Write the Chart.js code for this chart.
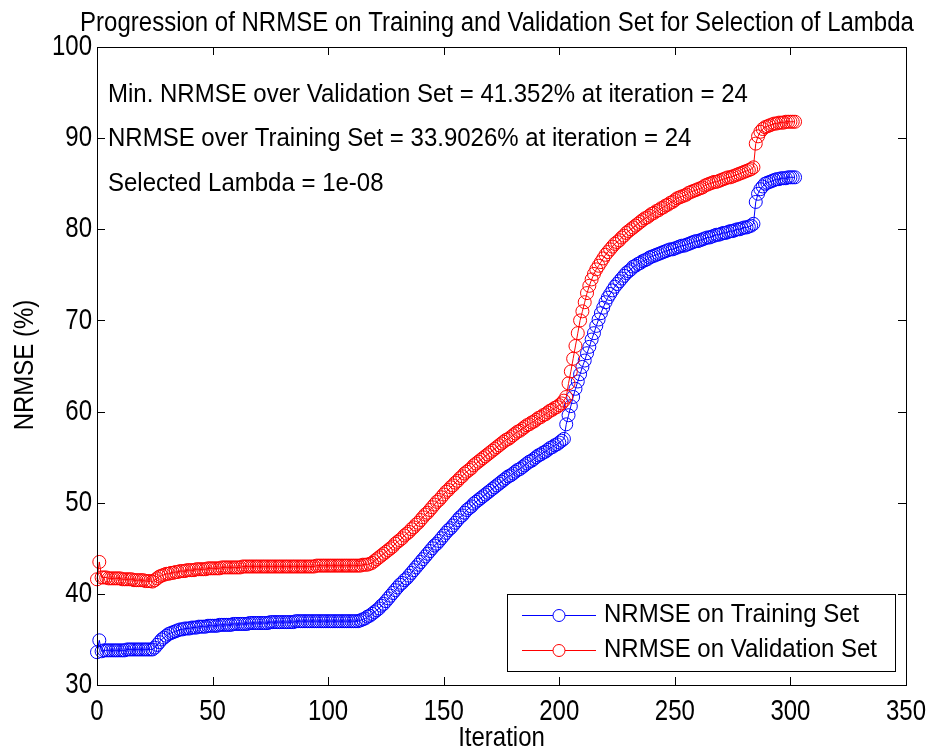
<!DOCTYPE html>
<html>
<head>
<meta charset="utf-8">
<script src="https://cdn.jsdelivr.net/npm/chart.js@4.4.0/dist/chart.umd.min.js"></script>
<style>
  html, body { margin: 0; padding: 0; background: #fff; }
</style>
</head>
<body>
<canvas id="myChart" width="928" height="749"></canvas>
<script>
// NRMSE (%) per iteration
const trainNrmse = [
  33.6, 34.9, 33.7, 33.8, 33.8, 33.8, 33.8, 33.8, 33.8, 33.8,
  33.8, 33.8, 33.8, 33.9, 33.9, 33.9, 33.9, 33.9, 33.9, 33.9,
  33.9, 33.9, 33.9, 33.9, 33.9, 34.1, 34.4, 34.7, 35.0, 35.2,
  35.4, 35.6, 35.7, 35.8, 35.9, 36.0, 36.1, 36.1, 36.2, 36.2,
  36.2, 36.3, 36.3, 36.3, 36.4, 36.4, 36.4, 36.4, 36.5, 36.5,
  36.5, 36.5, 36.5, 36.6, 36.6, 36.6, 36.6, 36.6, 36.6, 36.7,
  36.7, 36.7, 36.7, 36.7, 36.7, 36.7, 36.8, 36.8, 36.8, 36.8,
  36.8, 36.8, 36.8, 36.8, 36.8, 36.9, 36.9, 36.9, 36.9, 36.9,
  36.9, 36.9, 36.9, 36.9, 36.9, 36.9, 37.0, 37.0, 37.0, 37.0,
  37.0, 37.0, 37.0, 37.0, 37.0, 37.0, 37.0, 37.0, 37.0, 37.0,
  37.0, 37.0, 37.0, 37.0, 37.0, 37.0, 37.0, 37.0, 37.0, 37.0,
  37.0, 37.0, 37.0, 37.0, 37.1, 37.2, 37.3, 37.5, 37.6, 37.8,
  38.0, 38.2, 38.4, 38.7, 38.9, 39.2, 39.5, 39.8, 40.1, 40.4,
  40.7, 41.0, 41.2, 41.5, 41.7, 42.0, 42.3, 42.6, 42.9, 43.2,
  43.5, 43.8, 44.1, 44.4, 44.7, 45.0, 45.3, 45.5, 45.8, 46.1,
  46.4, 46.7, 47.0, 47.2, 47.5, 47.8, 48.1, 48.4, 48.6, 48.9,
  49.2, 49.4, 49.6, 49.9, 50.1, 50.3, 50.5, 50.7, 50.9, 51.1,
  51.3, 51.5, 51.7, 51.9, 52.1, 52.3, 52.5, 52.7, 52.9, 53.0,
  53.2, 53.4, 53.6, 53.7, 53.9, 54.1, 54.3, 54.5, 54.6, 54.8,
  55.0, 55.2, 55.3, 55.5, 55.6, 55.8, 56.0, 56.1, 56.3, 56.4,
  56.6, 56.8, 57.0, 58.6, 59.6, 60.6, 61.6, 62.5, 63.3, 64.1,
  64.9, 65.6, 66.4, 67.1, 67.9, 68.6, 69.4, 70.1, 70.8, 71.4,
  72.0, 72.5, 72.9, 73.3, 73.7, 74.0, 74.3, 74.6, 74.9, 75.2,
  75.4, 75.6, 75.9, 76.0, 76.2, 76.3, 76.5, 76.6, 76.7, 76.9,
  77.0, 77.1, 77.2, 77.3, 77.4, 77.5, 77.6, 77.7, 77.8, 77.8,
  77.9, 78.0, 78.1, 78.2, 78.2, 78.3, 78.4, 78.5, 78.6, 78.7,
  78.7, 78.8, 78.9, 79.0, 79.1, 79.1, 79.2, 79.3, 79.4, 79.4,
  79.5, 79.6, 79.6, 79.7, 79.8, 79.8, 79.9, 80.0, 80.0, 80.1,
  80.2, 80.2, 80.3, 80.4, 80.6, 83.0, 83.9, 84.4, 84.7, 85.0,
  85.1, 85.2, 85.3, 85.4, 85.5, 85.5, 85.6, 85.6, 85.6, 85.7,
  85.7, 85.7, 85.7
];

const validNrmse = [
  41.6, 43.5, 41.8, 41.8, 41.8, 41.7, 41.7, 41.7, 41.7, 41.7,
  41.7, 41.6, 41.6, 41.6, 41.6, 41.6, 41.5, 41.5, 41.5, 41.5,
  41.5, 41.4, 41.4, 41.4, 41.35, 41.5, 41.7, 41.9, 42.0, 42.1,
  42.2, 42.2, 42.3, 42.3, 42.4, 42.4, 42.5, 42.5, 42.5, 42.6,
  42.6, 42.6, 42.6, 42.7, 42.7, 42.7, 42.7, 42.7, 42.8, 42.8,
  42.8, 42.8, 42.8, 42.8, 42.9, 42.9, 42.9, 42.9, 42.9, 42.9,
  42.9, 42.9, 42.9, 43.0, 43.0, 43.0, 43.0, 43.0, 43.0, 43.0,
  43.0, 43.0, 43.0, 43.0, 43.0, 43.0, 43.0, 43.0, 43.0, 43.0,
  43.0, 43.0, 43.0, 43.0, 43.0, 43.0, 43.0, 43.0, 43.0, 43.0,
  43.0, 43.0, 43.0, 43.0, 43.0, 43.1, 43.1, 43.1, 43.1, 43.1,
  43.1, 43.1, 43.1, 43.1, 43.1, 43.1, 43.1, 43.1, 43.1, 43.1,
  43.1, 43.1, 43.1, 43.1, 43.1, 43.2, 43.2, 43.2, 43.3, 43.4,
  43.6, 43.8, 44.0, 44.2, 44.4, 44.6, 44.8, 45.0, 45.2, 45.5,
  45.7, 45.9, 46.1, 46.4, 46.6, 46.8, 47.1, 47.3, 47.6, 47.8,
  48.1, 48.4, 48.7, 48.9, 49.2, 49.5, 49.8, 50.1, 50.3, 50.6,
  50.9, 51.2, 51.4, 51.7, 51.9, 52.2, 52.4, 52.7, 52.9, 53.2,
  53.4, 53.6, 53.8, 54.1, 54.3, 54.5, 54.7, 54.9, 55.1, 55.3,
  55.5, 55.7, 55.9, 56.1, 56.3, 56.5, 56.7, 56.9, 57.0, 57.2,
  57.4, 57.6, 57.8, 57.9, 58.1, 58.3, 58.5, 58.6, 58.8, 58.9,
  59.1, 59.3, 59.4, 59.6, 59.7, 59.9, 60.1, 60.2, 60.4, 60.5,
  60.7, 60.9, 61.2, 61.6, 63.1, 64.4, 65.8, 67.2, 68.6, 70.0,
  71.0, 72.0, 73.0, 73.8, 74.5, 75.1, 75.6, 76.0, 76.4, 76.8,
  77.2, 77.5, 77.8, 78.1, 78.4, 78.6, 78.8, 79.1, 79.3, 79.6,
  79.8, 80.0, 80.2, 80.4, 80.6, 80.8, 81.0, 81.2, 81.3, 81.5,
  81.7, 81.8, 82.0, 82.1, 82.3, 82.4, 82.6, 82.7, 82.9, 83.0,
  83.2, 83.4, 83.5, 83.6, 83.7, 83.8, 84.0, 84.1, 84.2, 84.3,
  84.4, 84.5, 84.6, 84.8, 84.9, 85.0, 85.1, 85.2, 85.2, 85.3,
  85.4, 85.5, 85.6, 85.7, 85.7, 85.8, 85.9, 86.0, 86.1, 86.2,
  86.3, 86.4, 86.5, 86.6, 86.8, 89.4, 90.2, 90.7, 91.0, 91.2,
  91.3, 91.4, 91.5, 91.6, 91.6, 91.7, 91.7, 91.7, 91.8, 91.8,
  91.8, 91.8, 91.8
];

const xTicks = [0, 50, 100, 150, 200, 250, 300, 350];
const yTicks = [30, 40, 50, 60, 70, 80, 90, 100];

const titleText = 'Progression of NRMSE on Training and Validation Set for Selection of Lambda';
const xLabel = 'Iteration';
const yLabel = 'NRMSE (%)';
const notes = [
  'Min. NRMSE over Validation Set = 41.352% at iteration = 24',
  'NRMSE over Training Set = 33.9026% at iteration = 24',
  'Selected Lambda = 1e-08'
];

const FONT = '"Liberation Sans", Arial, sans-serif';

// текст чуть вытянут по вертикали, как в исходной картинке
function drawText(ctx, text, x, y, size, align, baseline, sy, rot) {
  ctx.save();
  ctx.font = size + 'px ' + FONT;
  ctx.fillStyle = '#000';
  ctx.textAlign = align;
  ctx.textBaseline = baseline;
  ctx.translate(x, y);
  if (rot) ctx.rotate(rot);
  ctx.scale(1, sy);
  ctx.fillText(text, 0, 0);
  ctx.restore();
}

const matlabFrame = {
  id: 'matlabFrame',
  afterDraw(chart) {
    const ctx = chart.ctx;
    const a = chart.chartArea;
    const xs = chart.scales.x;
    const ys = chart.scales.y;
    ctx.save();
    ctx.strokeStyle = '#000';
    ctx.lineWidth = 1;
    ctx.strokeRect(Math.round(a.left) + 0.5, Math.round(a.top) + 0.5,
      Math.round(a.right - a.left), Math.round(a.bottom - a.top));

    // засечки внутрь
    ctx.beginPath();
    xTicks.forEach(v => {
      const px = Math.round(xs.getPixelForValue(v)) + 0.5;
      ctx.moveTo(px, a.bottom); ctx.lineTo(px, a.bottom - 8);
      ctx.moveTo(px, a.top); ctx.lineTo(px, a.top + 8);
    });
    yTicks.forEach(v => {
      const py = Math.round(ys.getPixelForValue(v)) + 0.5;
      ctx.moveTo(a.left, py); ctx.lineTo(a.left + 8, py);
      ctx.moveTo(a.right, py); ctx.lineTo(a.right - 8, py);
    });
    ctx.stroke();
    ctx.restore();

    xTicks.forEach(v => {
      drawText(ctx, String(v), xs.getPixelForValue(v), 720, 24, 'center', 'alphabetic', 1.22);
    });
    yTicks.forEach(v => {
      drawText(ctx, String(v), a.left - 5, ys.getPixelForValue(v), 24, 'right', 'middle', 1.22);
    });

    drawText(ctx, titleText, 497, 31, 24, 'center', 'alphabetic', 1.15);
    drawText(ctx, xLabel, (a.left + a.right) / 2, 746, 24, 'center', 'alphabetic', 1.18);
    drawText(ctx, yLabel, 25, 365, 24, 'center', 'middle', 1.18, -Math.PI / 2);

    const noteY = [102, 146, 191];
    notes.forEach((t, i) => drawText(ctx, t, 108, noteY[i], 24, 'left', 'alphabetic', 1.05));

    // легенда
    ctx.save();
    ctx.fillStyle = '#fff';
    ctx.fillRect(507, 594, 388, 77);
    ctx.strokeStyle = '#000';
    ctx.lineWidth = 1;
    ctx.strokeRect(507.5, 594.5, 388, 77);
    const rows = [615, 650];
    chart.data.datasets.forEach((ds, i) => {
      const yy = rows[i] + 0.5;
      ctx.strokeStyle = ds.borderColor;
      ctx.beginPath();
      ctx.moveTo(522, yy); ctx.lineTo(596, yy);
      ctx.stroke();
      ctx.beginPath();
      ctx.arc(559, yy, 6, 0, Math.PI * 2);
      ctx.fillStyle = '#fff';
      ctx.fill();
      ctx.stroke();
      drawText(ctx, ds.label, 604, rows[i], 24, 'left', 'middle', 1.05);
    });
    ctx.restore();
  }
};

const toPoints = arr => arr.map((v, i) => ({x: i, y: v}));

const ctx = document.getElementById('myChart').getContext('2d');
const chart = new Chart(ctx, {
  type: 'line',
  data: {
    datasets: [
      {
        label: 'NRMSE on Training Set',
        data: toPoints(trainNrmse),
        borderColor: '#0000ff',
        backgroundColor: 'rgba(0,0,0,0)',
        borderWidth: 1,
        pointStyle: 'circle',
        pointRadius: 6.5,
        pointBorderWidth: 1,
        pointBorderColor: '#0000ff',
        pointBackgroundColor: 'rgba(0,0,0,0)',
        tension: 0,
        clip: false,
        order: 1
      },
      {
        label: 'NRMSE on Validation Set',
        data: toPoints(validNrmse),
        borderColor: '#ff0000',
        backgroundColor: 'rgba(0,0,0,0)',
        borderWidth: 1,
        pointStyle: 'circle',
        pointRadius: 6.5,
        pointBorderWidth: 1,
        pointBorderColor: '#ff0000',
        pointBackgroundColor: 'rgba(0,0,0,0)',
        tension: 0,
        clip: false,
        order: 0
      }
    ]
  },
  options: {
    responsive: false,
    animation: false,
    events: [],
    layout: { padding: { top: 47, right: 22, left: 0, bottom: 0 } },
    plugins: {
      legend: { display: false },
      title: { display: false },
      tooltip: { enabled: false }
    },
    scales: {
      x: {
        type: 'linear',
        min: xTicks[0],
        max: xTicks[xTicks.length - 1],
        ticks: { stepSize: 50, display: false },
        grid: { display: false },
        border: { display: false },
        afterFit: s => { s.height = 64; }
      },
      y: {
        type: 'linear',
        min: yTicks[0],
        max: yTicks[yTicks.length - 1],
        ticks: { stepSize: 10, display: false },
        grid: { display: false },
        border: { display: false },
        afterFit: s => { s.width = 97; }
      }
    }
  },
  plugins: [matlabFrame]
});
</script>
</body>
</html>
